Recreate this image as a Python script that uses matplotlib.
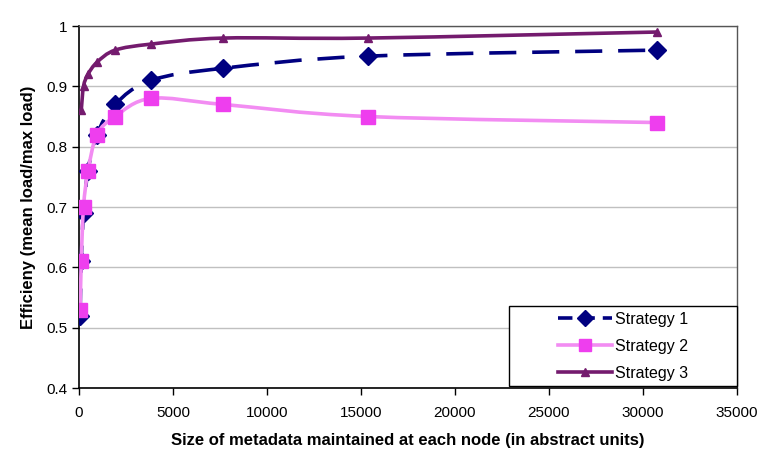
import numpy as np
import matplotlib
matplotlib.use("Agg")
import matplotlib.pyplot as plt
from matplotlib.path import Path
from matplotlib.patches import PathPatch, Rectangle

plt.rcParams['font.family'] = ['Liberation Sans', 'DejaVu Sans']

# Data
x_s1 = [60, 120, 240, 480, 960, 1920, 3840, 7680, 15360, 30720]
y_s1 = [0.52, 0.61, 0.69, 0.76, 0.82, 0.87, 0.91, 0.93, 0.95, 0.96]
x_s2 = [60, 120, 240, 480, 960, 1920, 3840, 7680, 15360, 30720]
y_s2 = [0.53, 0.61, 0.70, 0.76, 0.82, 0.85, 0.88, 0.87, 0.85, 0.84]
x_s3 = [120, 240, 480, 960, 1920, 3840, 7680, 15360, 30720]
y_s3 = [0.86, 0.90, 0.92, 0.94, 0.96, 0.97, 0.98, 0.98, 0.99]
labels = ["Strategy 1", "Strategy 2", "Strategy 3"]
x_ticks = [0, 5000, 10000, 15000, 20000, 25000, 30000, 35000]
y_ticks = [0.4, 0.5, 0.6, 0.7, 0.8, 0.9, 1.0]
y_tick_labels = ["0.4", "0.5", "0.6", "0.7", "0.8", "0.9", "1"]

fig = plt.figure(figsize=(7.74, 4.76), dpi=100)
ax = fig.add_axes([79/774, 1-388/476, (737-79)/774, (388-26)/476])
ax.set_xlim(0, 35000)
ax.set_ylim(0.4, 1.0)


def smooth_path(xs, ys):
    # Excel-like smoothing: cubic Bezier with Catmull-Rom control points in axes space
    pts = ax.transData.transform(np.column_stack([xs, ys]))
    pts = ax.transAxes.inverted().transform(pts)
    n = len(pts)
    verts = [pts[0]]
    codes = [Path.MOVETO]
    for i in range(n - 1):
        p0 = pts[i - 1] if i > 0 else pts[i]
        p1 = pts[i]
        p2 = pts[i + 1]
        p3 = pts[i + 2] if i + 2 < n else pts[i + 1]
        c1 = p1 + (p2 - p0) / 6.0
        c2 = p2 - (p3 - p1) / 6.0
        verts += [c1, c2, p2]
        codes += [Path.CURVE4] * 3
    return Path(verts, codes)


c1 = "#000080"
c2_line = "#F28CF2"
c2_mark = "#EE3EEE"
c3 = "#741B6E"
dash = (0, (7.5, 4.4))

ax.add_patch(PathPatch(smooth_path(x_s1, y_s1), transform=ax.transAxes, fill=False,
                       edgecolor=c1, lw=2.6, linestyle=dash, zorder=3))
ax.add_patch(PathPatch(smooth_path(x_s2, y_s2), transform=ax.transAxes, fill=False,
                       edgecolor=c2_line, lw=2.6, zorder=4))
ax.add_patch(PathPatch(smooth_path(x_s3, y_s3), transform=ax.transAxes, fill=False,
                       edgecolor=c3, lw=2.6, zorder=5))

ax.plot(x_s1, y_s1, linestyle='none', marker='D', ms=9.5, color=c1, zorder=3.5)
ax.plot(x_s2, y_s2, linestyle='none', marker='s', ms=10, color=c2_mark, zorder=4.5)
ax.plot(x_s3, y_s3, linestyle='none', marker='^', ms=6, color=c3, zorder=5.5)

# legend frame
ax.add_patch(Rectangle((0.6535, 0.0055), 1.0 - 0.6535, 0.221, transform=ax.transAxes,
                       facecolor='white', edgecolor='black', lw=1.0, zorder=8,
                       clip_on=False))
h1, = ax.plot([], [], color=c1, lw=2.6, linestyle=(0, (4, 2.2)), marker='D', ms=8)
h2, = ax.plot([], [], color=c2_line, lw=2.6, marker='s', ms=9, mfc=c2_mark, mec=c2_mark)
h3, = ax.plot([], [], color=c3, lw=2.6, marker='^', ms=6)
leg = ax.legend([h1, h2, h3], labels, loc='upper left', bbox_to_anchor=(0.728, 0.211),
                frameon=False, fontsize=11.5,
                handlelength=3.4, borderpad=0.0, labelspacing=0.76, handletextpad=0.15,
                borderaxespad=0.0)
leg.set_zorder(9)

ax.set_xticks(x_ticks)
ax.set_xticklabels([str(t) for t in x_ticks])
ax.set_yticks(y_ticks)
ax.set_yticklabels(y_tick_labels)
ax.tick_params(axis='both', direction='out', length=5, width=1, labelsize=11, colors='black')
ax.tick_params(axis='x', pad=8)
ax.grid(axis='y', color='#C0C0C0', lw=1)
ax.set_axisbelow(True)
for s in ['left', 'bottom']:
    ax.spines[s].set_color('black')
    ax.spines[s].set_linewidth(1.2)
for s in ['top', 'right']:
    ax.spines[s].set_color('#555555')
    ax.spines[s].set_linewidth(1.0)

ax.set_xlabel("Size of metadata maintained at each node (in abstract units)",
              fontsize=12, fontweight='bold', labelpad=9)
ax.set_ylabel("Efficieny (mean load/max load)", fontsize=12, fontweight='bold', labelpad=7)

fig.savefig("out.png", dpi=100)
